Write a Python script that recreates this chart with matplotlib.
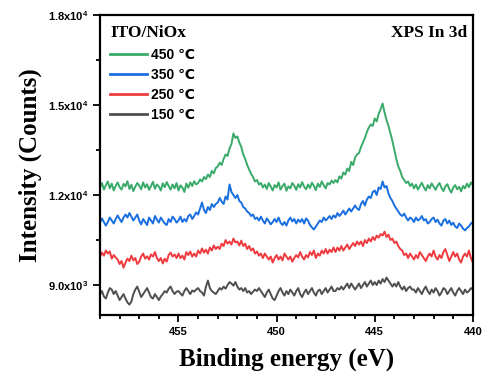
import numpy as np
import matplotlib
matplotlib.use("Agg")
import matplotlib.pyplot as plt
from matplotlib.ticker import MultipleLocator, FuncFormatter

plt.rcParams["mathtext.default"] = "regular"

# binding energy grid (eV), 0.1 eV step from 459 down to 440
energy = np.round(np.linspace(459.0, 440.0, 191), 1)

counts_450 = [
    12250, 12400, 12180, 12330, 12450, 12220, 12380, 12150, 12300, 12420,
    12260, 12180, 12370, 12290, 12460, 12200, 12340, 12130, 12280, 12400,
    12310, 12190, 12420, 12250, 12360, 12170, 12300, 12440, 12210, 12350,
    12280, 12150, 12390, 12260, 12430, 12300, 12180, 12350, 12220, 12400,
    12150, 12320, 12250, 12100, 12380, 12240, 12420, 12300, 12460, 12350,
    12400, 12520, 12450, 12600, 12530, 12680, 12600, 12800, 12720, 12900,
    12950, 13080, 13000, 13200, 13350, 13300, 13550, 13700, 14050, 13900,
    13950, 13750, 13600, 13350, 13200, 13000, 12850, 12700, 12600, 12450,
    12500, 12350, 12400, 12250,
    12350, 12200, 12400, 12280, 12150, 12330, 12250, 12420, 12180, 12300,
    12380, 12140, 12290, 12220, 12400, 12310, 12170, 12360, 12250, 12430,
    12280, 12190, 12350, 12230, 12410, 12300, 12160, 12380, 12270, 12450,
    12330, 12220, 12400, 12350, 12480, 12400,
    12500, 12420, 12620, 12550, 12750, 12680, 12880, 12800, 13100, 13000,
    13250, 13350, 13400, 13600, 13750, 13900, 14100, 14250, 14350, 14300,
    14550, 14450, 14700, 14850, 15050, 14750, 14500, 14300, 14050, 13800,
    13500, 13200, 12950, 12800, 12600, 12500, 12400, 12450, 12300, 12380,
    12220, 12350, 12180, 12300, 12410, 12260, 12150, 12330, 12220, 12390,
    12280, 12170, 12310, 12400, 12240, 12130, 12290, 12360, 12200, 12080,
    12250, 12330, 12190, 12270, 12120, 12300, 12220, 12380, 12260, 12420,
    12330,
]
counts_350 = [
    11080, 11220, 11100, 10980, 11100, 11250, 11150, 11050, 11200, 11320,
    11200, 11100, 11250, 11350, 11250, 11400, 11280, 11150, 11250, 11350,
    11150, 11020, 11200, 11100, 11000, 11250, 11150, 11050, 11300, 11180,
    11080, 11250, 11150, 11050, 11000, 11200, 11100, 11280, 11200, 11080,
    11150, 11280, 11100, 11200, 11120, 11300, 11350, 11200, 11300, 11420,
    11350, 11550, 11750, 11500, 11400, 11600, 11500, 11700, 11600, 11700,
    11750, 11900, 11780, 11700, 11950, 11850, 12350, 12100, 12000, 11900,
    12000, 11800, 11750, 11600, 11550, 11450, 11400, 11300, 11350, 11200,
    11250, 11150,
    11280, 11150, 11050, 11220, 11130, 11020, 11100, 11200, 11100, 11250,
    11080, 11000, 11100, 10980, 11150, 11250, 11120, 11200, 11050, 11180,
    11100, 11200, 11050, 11220, 11150, 11000, 10920, 10850, 10950, 11050,
    11150, 11100, 11250, 11150, 11220, 11300, 11200, 11320,
    11250, 11400, 11300, 11380, 11480, 11350, 11450, 11550, 11450, 11550,
    11650, 11550, 11500, 11700, 11800, 11650, 11850, 11950, 11900, 12100,
    12150, 12000, 12250, 12200, 12450, 12250, 12300, 12050, 11900, 11800,
    11650, 11550, 11450, 11350, 11300, 11380, 11250, 11150, 11250, 11200,
    11100, 11250, 11150, 11200, 11300, 11150, 11200, 11050, 11100, 11200,
    11250, 11100, 11180, 11050, 10980, 11150, 11200, 11050, 11150, 11000,
    11080, 10950, 10900, 11050, 10980, 10880, 10820, 10900, 10950, 11050,
    11100,
]
counts_250 = [
    9950, 10080, 9980, 10150, 10050, 10120, 9880, 10000, 9920, 9850,
    9700, 9800, 9580, 9750, 9880, 9800, 9980, 9820, 9900, 9700,
    9780, 9950, 10050, 9880, 9960, 9850, 10020, 9950, 10100, 9900,
    9800, 9900, 9720, 9880, 9780, 10000, 10080, 9950, 10020, 9900,
    10050, 9900, 9980, 9850, 10100, 10000, 10120, 9950, 10050, 9950,
    10150, 10050, 10220, 10080, 10180, 10050, 10250, 10150, 10320, 10200,
    10280, 10200, 10380, 10300, 10500, 10380, 10450, 10350, 10550, 10420,
    10450, 10320, 10480, 10300, 10380, 10200, 10300, 10150, 10220, 10050,
    10120, 9980,
    10050, 9900, 10050, 9950, 9850, 9950, 9750, 9900, 10000, 9850,
    9950, 9820, 10050, 9950, 9850, 9950, 9780, 9900, 10000, 9920,
    10100, 9950, 9850, 10000, 9920, 10100, 10000, 10150, 9900, 10050,
    9980, 10150, 10050, 10200, 10050, 10180, 10100, 10250,
    10100, 10250, 10150, 10300, 10150, 10250, 10350, 10200, 10300, 10400,
    10300, 10450, 10350, 10450, 10300, 10500, 10400, 10550, 10450, 10600,
    10500, 10650, 10580, 10700, 10650, 10780, 10600, 10680, 10500, 10550,
    10400, 10450, 10300, 10200, 10150, 10000, 10050, 9900, 10050, 9950,
    9850, 10000, 9900, 10100, 10000, 9900, 9800, 9950, 10050, 9950,
    10150, 9950, 9850, 10000, 9900, 10100, 10200, 10000, 9800, 9950,
    10100, 9950, 10050, 9850, 9750, 9950, 10050, 9950, 10150, 9900,
    9750,
]
counts_150 = [
    8700, 8800, 8620, 8550, 8750, 8900, 8850, 8700, 8800, 8650,
    8500, 8600, 8700, 8550, 8420, 8350, 8450, 8700, 8850, 8950,
    8780, 8600, 8700, 8800, 8900, 8750, 8600, 8550, 8700, 8600,
    8500, 8620, 8700, 8800, 8750, 8880, 8950, 8800, 8700, 8780,
    8800, 8720, 8650, 8800, 8900, 8800, 8700, 8820, 8780, 8850,
    8900, 8800, 8750, 8650, 8950, 9150, 8900, 8800, 8750, 8700,
    8800, 8900, 8850, 8950, 8880, 9000, 9100, 9050, 8980, 9100,
    8950, 8850, 8900, 8800, 8900, 8750, 8800, 8700, 8780, 8850,
    8800, 8900,
    8800, 8700, 8600, 8750, 8850, 8700, 8550, 8500, 8650, 8800,
    8900, 8750, 8650, 8800, 8700, 8850, 8750, 8650, 8800, 8900,
    8700, 8600, 8750, 8850, 8700, 8800, 8900, 8750, 8650, 8800,
    8850, 8700, 8800, 8900, 8750, 8850, 8950, 8800,
    8800, 8900, 8850, 8950, 8850, 8950, 9050, 8900, 9050, 8950,
    8850, 8950, 9050, 8900, 9000, 9100, 8950, 9050, 9150, 9000,
    9100, 9000, 9150, 9050, 9200, 9100, 9250, 9150, 9050, 8950,
    9050, 8950, 9100, 8950, 8850, 8950, 8800, 8900, 8950, 8850,
    8850, 8750, 8900, 8800, 8700, 8850, 8950, 8800, 8700, 8850,
    8750, 8900, 8800, 8650, 8750, 8900, 8850, 8700, 8800, 8900,
    8750, 8650, 8800, 8900, 8800, 8700, 8850, 8750, 8800, 8900,
    8850,
]

labels = ["450 \u2103", "350 \u2103", "250 \u2103", "150 \u2103"]
series = [counts_450, counts_350, counts_250, counts_150]
colors = ["#3aaa6a", "#1a6fdf", "#ee3b3f", "#4f4f4f"]


def sci(v, pos):
    if v <= 0:
        return ""
    e = int(np.floor(np.log10(v)))
    return f"{v / 10**e:.1f}x10$^{{{e}}}$"


fig = plt.figure(figsize=(4.83, 3.72), dpi=100)
ax = fig.add_axes([0.207, 0.153, 0.772, 0.807])

for y, c, lab in zip(series, colors, labels):
    ax.plot(energy, y, color=c, lw=1.4, label=lab)

ax.set_xlim(459, 440)
ax.set_ylim(8000, 18000)
ax.xaxis.set_major_locator(MultipleLocator(5))
ax.xaxis.set_minor_locator(MultipleLocator(1))
ax.yaxis.set_major_locator(MultipleLocator(3000))
ax.yaxis.set_minor_locator(MultipleLocator(1500))
ax.yaxis.set_major_formatter(FuncFormatter(sci))

ax.tick_params(which="both", direction="out", width=1.3, top=False, right=False)
ax.tick_params(which="major", length=5)
ax.tick_params(which="minor", length=3)
for lab in ax.get_xticklabels() + ax.get_yticklabels():
    lab.set_family(["Liberation Sans", "DejaVu Sans"])
    lab.set_fontweight("bold")
    lab.set_fontsize(8)
for s in ax.spines.values():
    s.set_linewidth(1.6)

serif = "Liberation Serif"
ax.set_xlabel("Binding energy (eV)", family=serif, weight="bold", size=18, labelpad=8)
ax.set_ylabel("Intensity (Counts)", family=serif, weight="bold", size=18, labelpad=4)

leg = ax.legend(loc="upper left", frameon=False, handlelength=2.6,
                handletextpad=0.3, labelspacing=0.45, borderaxespad=0.35,
                prop={"family": ["Liberation Sans", "DejaVu Sans"],
                      "weight": "bold", "size": 10},
                title="ITO/NiOx",
                title_fontproperties={"family": serif, "weight": "bold", "size": 12.5},
                alignment="left")
for h in leg.get_lines():
    h.set_linewidth(2)

ax.text(0.985, 0.965, "XPS In 3d", transform=ax.transAxes, ha="right", va="top",
        family=serif, weight="bold", size=12.5)

fig.savefig("out.png", dpi=100)
